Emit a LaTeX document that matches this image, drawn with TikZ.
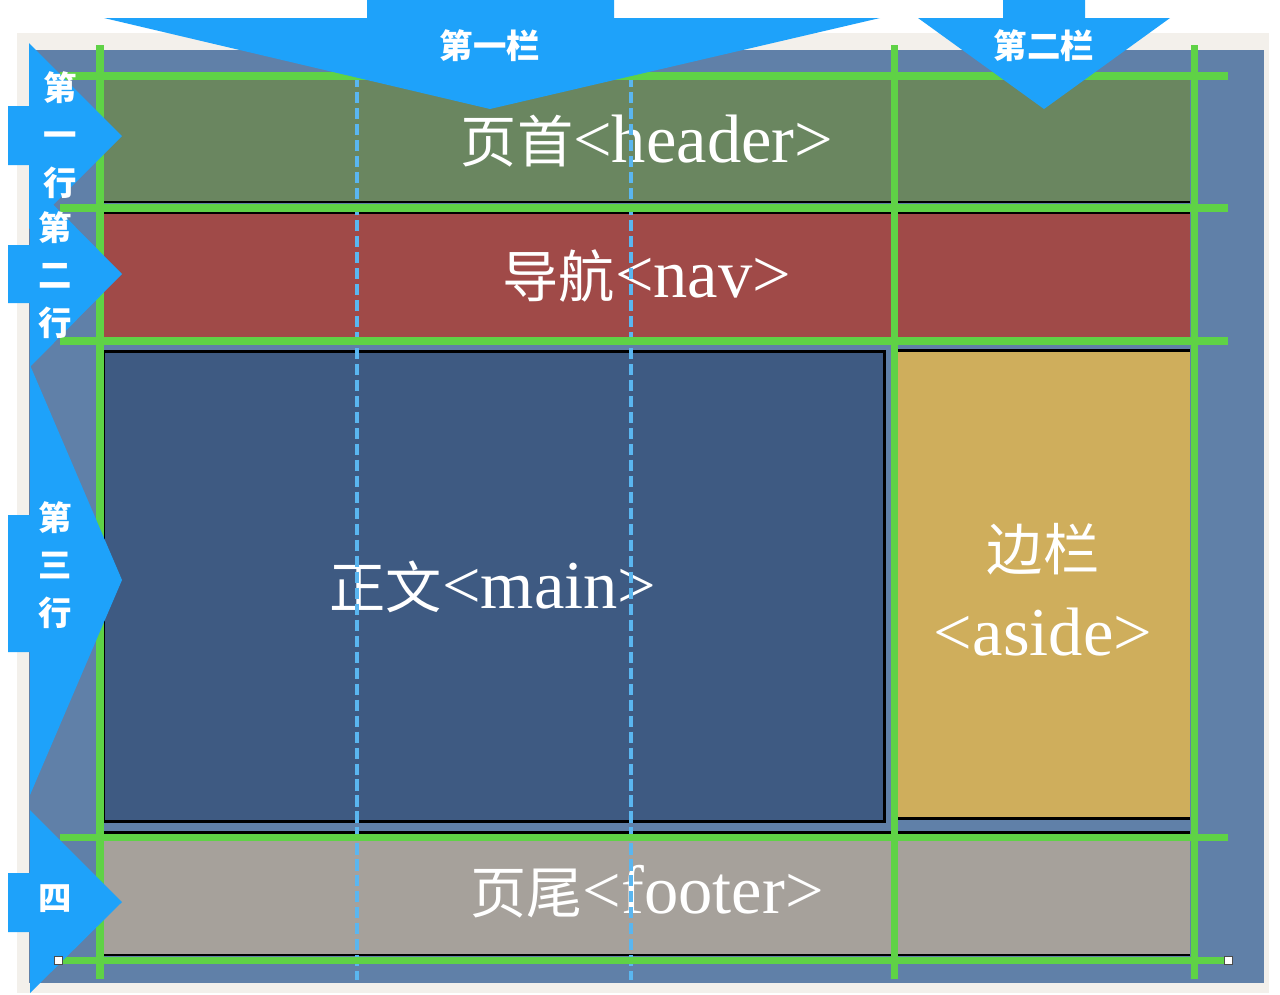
\documentclass[tikz,border=0pt]{standalone}
\usepackage{fontspec}
\setmainfont{Liberation Serif}
\newfontfamily\cjk[Scale=0.82]{Noto Sans CJK SC}
\newfontfamily\cjkb{Noto Sans CJK SC}

\definecolor{paper}{RGB}{243,240,235}
\definecolor{panel}{RGB}{96,128,168}
\definecolor{headcol}{RGB}{106,134,96}
\definecolor{navcol}{RGB}{160,74,72}
\definecolor{maincol}{RGB}{62,90,130}
\definecolor{asidecol}{RGB}{207,174,92}
\definecolor{footcol}{RGB}{166,161,155}
\definecolor{gridgreen}{RGB}{95,210,70}
\definecolor{markblue}{RGB}{30,162,250}
\definecolor{colblue}{RGB}{90,182,240}

\begin{document}
\begin{tikzpicture}[x=0.02cm, y=-0.02cm,
  boxtext/.style={text=white, font=\fontsize{39}{44}\selectfont, anchor=base, inner sep=0pt},
  marktext/.style={text=white, font=\cjkb\bfseries\fontsize{19}{27}\selectfont, align=center, inner sep=0pt},
  gridline/.style={gridgreen, line width=4pt},
  colline/.style={colblue, line width=2.2pt, dash pattern=on 6.3pt off 2.8pt},
  border/.style={black, line width=1.7pt},
  handle/.style={draw=black!70, fill=white, line width=0.4pt, minimum size=4.5pt, inner sep=0pt}]
\useasboundingbox (0,0) rectangle (1280,994);

% page and panel
\fill[paper] (17,33) rectangle (1269,993);
\fill[panel] (29,50) rectangle (1264,983);

% the five parts
\fill[headcol] (103,78) rectangle (1190,202);
\draw[border, line width=1pt] (103,202) -- (1190,202);

\fill[navcol] (103,213) rectangle (1190,338);
\draw[border] (103,213) -- (1190,213);

\fill[maincol] (104,351) rectangle (884,821);
\draw[border] (104,351) rectangle (884,821);

\fill[asidecol] (898,350) rectangle (1190,818);
\draw[border] (898,350) -- (1190,350);
\draw[border] (898,818) -- (1190,818);

\fill[footcol] (103,832) rectangle (1190,955);
\draw[border] (103,832) -- (1190,832);
\draw[border, line width=1pt] (103,955) -- (1190,955);

\node[boxtext] (headtext) at (647,162) {{\cjk 页首}<header>};
\node[boxtext] (navtext) at (647,297) {{\cjk 导航}<nav>};
\node[boxtext] (maintext) at (493,608) {{\cjk 正文}<main>};
\node[boxtext] (asidetitle) at (1043,570) {\cjk 边栏};
\node[boxtext] (asidetag) at (1043,655) {<aside>};
\node[boxtext] (foottext) at (647,913) {{\cjk 页尾}<footer>};

% column guides
\draw[colline] (357,76) -- (357,980);
\draw[colline] (631,76) -- (631,980);

% grid
\draw[gridline] (60,76) -- (1228,76);
\draw[gridline] (60,208) -- (1228,208);
\draw[gridline] (60,341) -- (1228,341);
\draw[gridline] (60,837) -- (1228,837);
\draw[gridline] (60,960) -- (1228,960);
\draw[gridline] (100,45) -- (100,979);
\draw[gridline] (894,45) -- (894,979);
\draw[gridline] (1194,45) -- (1194,979);

% column marks
\fill[markblue] (367,0) -- (614,0) -- (614,18) -- (880,18) -- (490,109) -- (104,18) -- (367,18) -- cycle;
\fill[markblue] (1003,0) -- (1085,0) -- (1085,18) -- (1170,18) -- (1044,109) -- (918,18) -- (1003,18) -- cycle;
\node[marktext] (colone) at (490,46) {第一栏};
\node[marktext] (coltwo) at (1044,46) {第二栏};

% row marks
\fill[markblue] (8,106) -- (29,106) -- (29,43) -- (122,136) -- (29,229) -- (29,165) -- (8,165) -- cycle;
\fill[markblue] (8,245) -- (30,245) -- (30,181) -- (122,274) -- (30,367) -- (30,303) -- (8,303) -- cycle;
\fill[markblue] (8,515) -- (30,515) -- (30,365) -- (122,580) -- (30,795) -- (30,652) -- (8,652) -- cycle;
\fill[markblue] (8,873) -- (30,873) -- (30,810) -- (122,902) -- (30,993) -- (30,932) -- (8,932) -- cycle;
\node[marktext] (rowone) at (60,135) {第\\一\\行};
\node[marktext] (rowtwo) at (55,275) {第\\二\\行};
\node[marktext] (rowthree) at (55,565) {第\\三\\行};
\node[marktext] (rowfour) at (55,899) {四};

% handles
\node[handle] (lefthandle) at (58,960) {};
\node[handle] (righthandle) at (1228,960) {};
\end{tikzpicture}
\end{document}
